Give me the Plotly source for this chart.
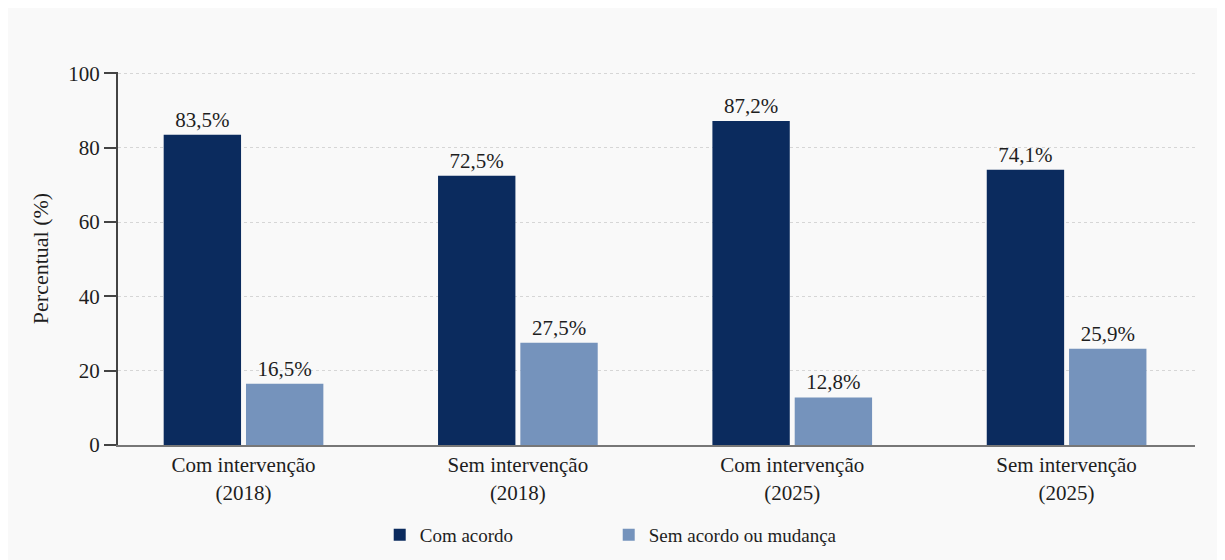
import plotly.graph_objects as go

categories = ["Com intervenção<br>(2018)", "Sem intervenção<br>(2018)",
              "Com intervenção<br>(2025)", "Sem intervenção<br>(2025)"]
series_names = ["Com acordo", "Sem acordo ou mudança"]
com_acordo = [83.5, 72.5, 87.2, 74.1]
sem_acordo = [16.5, 27.5, 12.8, 25.9]
y_ticks = [0, 20, 40, 60, 80, 100]

colors = ["#0b2b5e", "#7593bc"]
font_family = "Liberation Serif, Times New Roman, serif"

def fmt(v):
    return f"{v:.1f}".replace(".", ",") + "%"

fig = go.Figure()
for name, vals, c in zip(series_names, [com_acordo, sem_acordo], colors):
    fig.add_trace(go.Bar(
        x=categories, y=vals, name=name,
        marker=dict(color=c, line=dict(width=0)),
        text=[fmt(v) for v in vals], textposition="outside",
        textfont=dict(size=21, color="#1e1e1e", family=font_family),
        cliponaxis=False,
    ))

fig.update_layout(
    width=1225, height=560,
    margin=dict(l=110, r=38, t=64, b=123),
    paper_bgcolor="#f9f9f9", plot_bgcolor="#f9f9f9",
    barmode="group", bargap=0.4, bargroupgap=0.06,
    font=dict(family=font_family, size=20, color="#1e1e1e"),
    legend=dict(orientation="h", x=0.243, xanchor="left", y=-0.241, yanchor="middle",
                entrywidth=184, entrywidthmode="pixels",
                font=dict(size=19, family=font_family), bgcolor="rgba(0,0,0,0)"),
    showlegend=True,
)
fig.update_xaxes(
    range=[-0.4575, 3.468], showline=True, linecolor="#777777", linewidth=2,
    ticks="", showgrid=False, tickfont=dict(size=21), zeroline=False,
)
fig.update_yaxes(
    range=[0, 100.4], tickvals=y_ticks, showline=True, linecolor="#444444", linewidth=2,
    ticks="outside", ticklen=12, tickcolor="#444444", tickwidth=1.5,
    showgrid=True, gridcolor="#d6d6d6", griddash="dot", gridwidth=1,
    zeroline=False, tickfont=dict(size=21),
    title=dict(text="Percentual (%)", font=dict(size=22), standoff=14),
)

fig.write_html("out.html")
